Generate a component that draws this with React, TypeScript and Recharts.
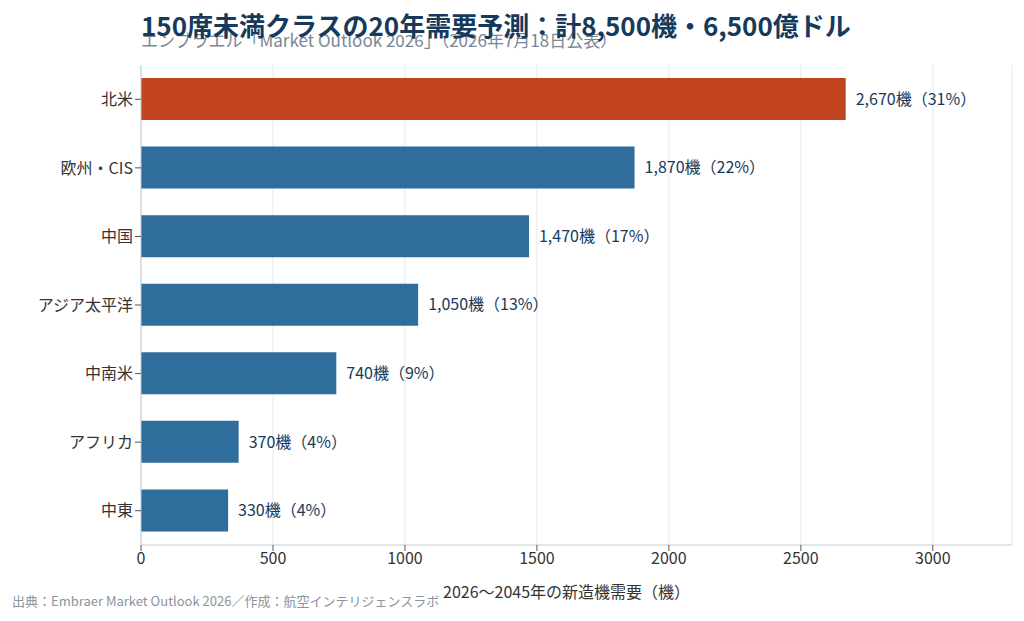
import React from "react";
import { BarChart, Bar, XAxis, YAxis, CartesianGrid, Cell, LabelList } from "recharts";

const regions = ["北米", "欧州・CIS", "中国", "アジア太平洋", "中南米", "アフリカ", "中東"];
const units = [2670, 1870, 1470, 1050, 740, 370, 330];
const shares = [31, 22, 17, 13, 9, 4, 4];
const xTicks = [0, 500, 1000, 1500, 2000, 2500, 3000];

const data = regions.map((r, i) => ({ region: r, value: units[i], label: `${units[i].toLocaleString("en-US")}機（${shares[i]}%）` }));
const font = "'Noto Sans CJK JP', 'Noto Sans', sans-serif";

export default function App() {
  return (
    <div style={{ position: "absolute", left: 0, top: 0, width: 1024, height: 621, background: "#fff", fontFamily: font }}>
      <div style={{ position: "absolute", left: 141, top: 29, fontSize: 17, color: "#7a8794", whiteSpace: "nowrap", lineHeight: "22px" }}>
        エンブラエル「Market Outlook 2026」（2026年7月18日公表）
      </div>
      <div style={{ position: "absolute", left: 141, top: 6, fontSize: 26, fontWeight: 700, color: "#163a5c", whiteSpace: "nowrap", lineHeight: "38px" }}>
        150席未満クラスの20年需要予測：計8,500機・6,500億ドル
      </div>
      <BarChart width={1024} height={621} data={data} layout="vertical" margin={{ top: 65, right: 12, bottom: 46, left: 0 }}>
        <CartesianGrid horizontal={false} stroke="#e6e9ec" />
        <XAxis type="number" domain={[0, 3300]} ticks={xTicks} height={30} tick={{ fill: "#333", fontSize: 16, fontFamily: font }} axisLine={{ stroke: "#c5ccd3" }} tickLine={{ stroke: "#555" }} tickSize={6} />
        <YAxis type="category" dataKey="region" width={141} tick={{ fill: "#333", fontSize: 16, fontFamily: font }} axisLine={{ stroke: "#c5ccd3" }} tickLine={{ stroke: "#555" }} tickSize={6} />
        <Bar dataKey="value" barSize={42} isAnimationActive={false}>
          {data.map((d, i) => <Cell key={i} fill={i === 0 ? "#c1441f" : "#2e6d9c"} />)}
          <LabelList dataKey="label" position="right" offset={10} style={{ fill: "#163a5c", fontSize: 16, fontFamily: font }} />
        </Bar>
      </BarChart>
      <div style={{ position: "absolute", left: 443, top: 580, fontSize: 16, color: "#333", whiteSpace: "nowrap", lineHeight: "22px" }}>
        2026〜2045年の新造機需要（機）
      </div>
      <div style={{ position: "absolute", left: 12, top: 592, fontSize: 13, color: "#8a949e", whiteSpace: "nowrap", lineHeight: "18px" }}>
        出典：Embraer Market Outlook 2026／作成：航空インテリジェンスラボ
      </div>
    </div>
  );
}
